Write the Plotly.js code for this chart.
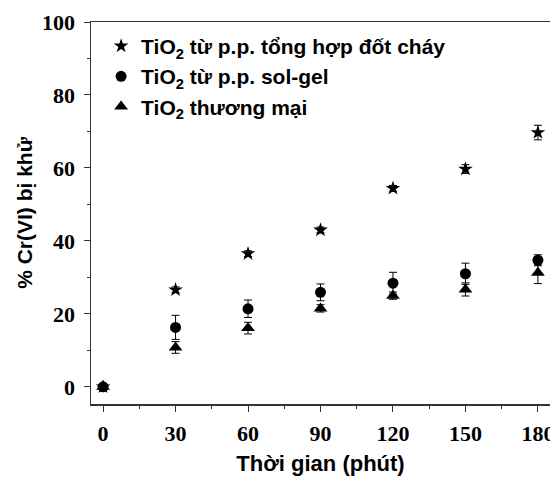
<!DOCTYPE html>
<html><head><meta charset="utf-8">
<script src="https://cdn.plot.ly/plotly-3.0.1.min.js"></script>
<style>body{margin:0;background:#fff}#c{width:550px;height:477px}</style>
</head><body><div id="c"></div>
<script>
const time = [0, 30, 60, 90, 120, 150, 180];
const combustion = [0, 26.6, 36.5, 43.0, 54.4, 59.7, 69.7];
const combustionErr = [0.5, 0.8, 0.8, 0.8, 0.8, 1.2, 2.0];
const solgel = [0, 16.3, 21.4, 25.9, 28.4, 31.0, 34.7];
const solgelErr = [0.5, 3.3, 2.4, 2.3, 3.0, 2.9, 1.5];
const commercial = [0, 10.8, 16.1, 21.5, 25.0, 26.7, 31.3];
const commercialErr = [0.5, 1.6, 1.6, 1.0, 1.0, 1.8, 3.0];
const names = ["TiO<sub>2</sub> từ p.p. tổng hợp đốt cháy", "TiO<sub>2</sub> từ p.p. sol-gel", "TiO<sub>2</sub> thương mại"];
const xTicks = [0, 30, 60, 90, 120, 150, 180];
const yTicks = [0, 20, 40, 60, 80, 100];

function tr(y, e, name, symbol, size) {
  return {x: time, y: y, name: name, type: 'scatter', mode: 'markers',
    marker: {symbol: symbol, size: size, color: '#000'},
    error_y: {type: 'data', array: e, visible: true, color: '#000', thickness: 1, width: 4}};
}
const data = [
  tr(combustion, combustionErr, names[0], 'star', 11),
  tr(solgel, solgelErr, names[1], 'circle', 11),
  tr(commercial, commercialErr, names[2], 'triangle-up', 12)
];
const layout = {
  width: 550, height: 477,
  margin: {l: 91, r: 0, t: 22, b: 73},
  paper_bgcolor: '#fff', plot_bgcolor: '#fff',
  showlegend: true,
  legend: {x: 0.022, y: 0.99, xanchor: 'left', yanchor: 'top', bgcolor: 'rgba(0,0,0,0)',
    font: {family: 'Liberation Sans, Arial', size: 21, color: '#000', weight: 'bold'},
    itemsizing: 'trace', tracegroupgap: 0},
  xaxis: {range: [-5, 185], tickvals: xTicks, ticktext: xTicks.map(String),
    showgrid: false, zeroline: false, showline: true, linecolor: '#333', linewidth: 1.5, mirror: true,
    ticks: 'outside', ticklen: 6, tickcolor: '#333', ticklabeloverflow: 'allow', ticklabelstandoff: 3,
    minor: {dtick: 15, tick0: 15, ticks: 'outside', ticklen: 3, tickcolor: '#333', showgrid: false},
    tickfont: {family: 'Liberation Serif, Times New Roman', size: 22, color: '#000', weight: 'bold'},
    title: {text: 'Thời gian (phút)', standoff: 10, font: {family: 'Liberation Sans, Arial', size: 22, color: '#000', weight: 'bold'}}},
  yaxis: {range: [-4.7, 100], tickvals: yTicks, ticktext: yTicks.map(String),
    showgrid: false, zeroline: false, showline: true, linecolor: '#333', linewidth: 1.5,
    ticks: 'outside', ticklen: 6, tickcolor: '#333', ticklabelstandoff: 4,
    minor: {dtick: 20, tick0: 10, ticks: 'outside', ticklen: 3, tickcolor: '#333', showgrid: false},
    tickfont: {family: 'Liberation Serif, Times New Roman', size: 22, color: '#000', weight: 'bold'},
    title: {text: '% Cr(VI) bị khử', standoff: 3, font: {family: 'Liberation Sans, Arial', size: 21, color: '#000', weight: 'bold'}}}
};
Plotly.newPlot('c', data, layout, {displayModeBar: false, staticPlot: true});
</script></body></html>
